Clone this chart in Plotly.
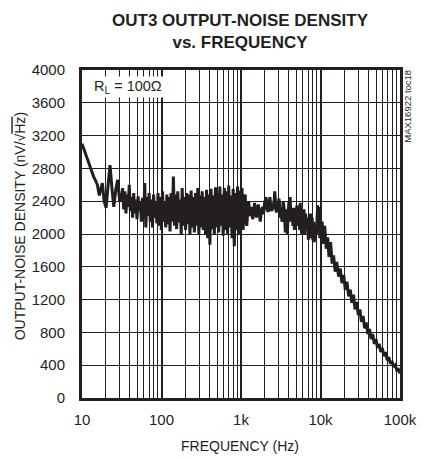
import plotly.graph_objects as go

# ---- data ----
freq_lo = [10, 11, 12, 13, 14, 15, 15.6, 16.5, 17.3, 18.0, 19.0, 20.1, 21.3, 22.5,
           23.8, 25.1, 26.6, 28.1, 29.7]
noise_lo = [3100, 2980, 2880, 2790, 2700, 2640, 2600, 2470, 2560, 2620, 2400, 2320,
            2600, 2840, 2560, 2330, 2540, 2660, 2415]

freq_band = [31.4, 32.4, 33.5, 34.6, 35.7, 36.9, 38.1, 39.3, 40.6, 41.9, 43.3, 44.7,
             46.1, 47.6, 49.2, 50.8, 52.4, 54.1, 55.9, 57.7, 59.6, 61.5, 63.5, 65.6,
             67.7, 69.9, 72.2, 74.6, 77.0, 79.5, 82.1, 84.8, 87.5, 90.4, 93.3, 96.3,
             99.5, 103, 106, 110, 113, 117, 120, 124, 128, 132, 137, 141, 146, 150,
             155, 160, 166, 171, 177, 182, 188, 194, 201, 207, 214, 221, 228, 236,
             243, 251, 259, 268, 277, 286, 295, 304, 314, 325, 335, 346, 357, 369,
             381, 394, 406, 420, 433, 447, 462, 477, 493, 509, 525, 542, 560, 578,
             597, 617, 637, 657, 679, 701, 724, 748, 772, 797, 823, 850, 877, 906,
             935, 966, 997, 1030, 1063, 1098]
noise_band = [2420, 2560, 2300, 2520, 2250, 2480, 2330, 2600, 2280, 2450, 2200, 2500,
              2250, 2420, 2180, 2460, 2280, 2390, 2150, 2440, 2200, 2620, 2080, 2450,
              2220, 2500, 2150, 2420, 2080, 2480, 2200, 2400, 2130, 2500, 2100, 2450,
              2050, 2520, 2150, 2400, 2080, 2480, 2120, 2450, 2030, 2500, 2150, 2700,
              2100, 2480, 2060, 2520, 2140, 2420, 2000, 2560, 2100, 2450, 2050, 2500,
              2120, 2480, 2000, 2530, 2080, 2450, 2020, 2500, 2100, 2560, 1990, 2470,
              2080, 2520, 2050, 2450, 2000, 2540, 1950, 2480, 1870, 2550, 2060, 2470,
              2000, 2570, 2080, 2500, 2020, 2580, 2100, 2480, 1980, 2560, 2050, 2520,
              2000, 2590, 2080, 2470, 1950, 2550, 1850, 2500, 2050, 2580, 2000, 2530,
              2100, 2560, 2050, 2420]

freq_mid = [1130, 1160, 1182, 1220, 1250, 1290, 1322, 1360, 1400, 1439, 1480, 1520,
            1565, 1610, 1650, 1700, 1747, 1800, 1860, 1920, 1980, 2068, 2130, 2200,
            2260, 2311, 2370, 2440, 2512, 2580, 2656, 2720, 2780, 2850, 2920, 3000,
            3055, 3130, 3200, 3270, 3322, 3400, 3500, 3613, 3700, 3821, 3900, 4000,
            4080, 4152, 4250, 4389, 4500, 4600, 4700, 4772, 4900, 5050, 5200, 5333,
            5450, 5560, 5700, 5801, 5950, 6050, 6200, 6310, 6500, 6650, 6800, 7052,
            7200, 7350, 7500, 7670, 7850, 8000, 8200, 8342, 8600, 8900, 9200, 9400,
            9590, 9800, 10000, 10140]
noise_mid = [2480, 2150, 2100, 2300, 2400, 2250, 2220, 2330, 2180, 2250, 2380, 2300,
             2200, 2300, 2360, 2250, 2150, 2280, 2330, 2240, 2380, 2450, 2300, 2270,
             2400, 2450, 2320, 2280, 2380, 2300, 2520, 2350, 2260, 2400, 2300, 2430,
             2380, 2200, 2320, 2150, 2180, 2400, 2300, 2020, 2300, 2000, 2250, 2400,
             2300, 2450, 2150, 2300, 2100, 2320, 2050, 2250, 2150, 2350, 2100, 2280,
             2050, 2380, 2100, 2000, 2280, 2150, 2300, 2000, 2250, 2050, 2200, 1930,
             2200, 2080, 2250, 1950, 2200, 1920, 2150, 1900, 2100, 2000, 2350, 2050,
             2330, 1950, 2200, 2000]

freq_hi = [10500, 10900, 11300, 11800, 12300, 12800, 13400, 14000, 14600, 15300,
           16000, 16900, 17700, 18600, 19600, 20500, 21500, 22600, 23700, 24800,
           26000, 27200, 28500, 29900, 31300, 32700, 34300, 35900, 37600, 39400,
           41300, 43300, 45400, 47600, 49800, 52200, 54700, 57300, 60000, 62900,
           65900, 69000, 72300, 75700, 79300, 83100, 87000, 91200, 95500, 100000]
noise_hi = [2150, 1880, 2100, 1820, 1960, 1720, 1900, 1640, 1740, 1540,
            1660, 1480, 1580, 1400, 1500, 1320, 1420, 1240, 1320, 1160,
            1260, 1080, 1170, 1010, 1080, 930, 1000, 850, 920, 780,
            840, 720, 780, 660, 720, 610, 660, 560, 610, 510,
            560, 460, 500, 420, 450, 380, 400, 340, 350, 300]

freq = freq_lo + freq_band + freq_mid + freq_hi
noise = noise_lo + noise_band + noise_mid + noise_hi

x_tickvals = [10, 100, 1000, 10000, 100000]
x_ticktext = ["10", "100", "1k", "10k", "100k"]
y_tickvals = [0, 400, 800, 1200, 1600, 2000, 2400, 2800, 3200, 3600, 4000]

FONT = "Liberation Sans, Arial, sans-serif"
INK = "#231f20"

fig = go.Figure()
fig.add_trace(go.Scatter(x=freq, y=noise, mode="lines",
                         line=dict(color=INK, width=3), showlegend=False,
                         hoverinfo="skip"))

# the page body adds an 8px margin, so the figure is 8px smaller on each axis
fig.update_layout(
    width=421, height=451,
    margin=dict(l=74, r=17, t=62, b=61),
    paper_bgcolor="white", plot_bgcolor="white",
    font=dict(family=FONT, color=INK, size=15),
    xaxis=dict(type="log", range=[1, 5], tickvals=x_tickvals, ticktext=x_ticktext,
               showgrid=True, gridcolor=INK, gridwidth=1.6,
               minor=dict(dtick="D1", showgrid=True, gridcolor=INK, gridwidth=1,
                          ticks=""),
               showline=True, mirror=True, linecolor=INK, linewidth=3,
               ticks="", ticklabelstandoff=6, zeroline=False,
               tickfont=dict(family=FONT, size=15, color=INK)),
    yaxis=dict(range=[0, 4000], tickvals=y_tickvals,
               showgrid=True, gridcolor=INK, gridwidth=1.2,
               showline=True, mirror=True, linecolor=INK, linewidth=3,
               ticks="", ticklabelstandoff=11, zeroline=False,
               tickfont=dict(family=FONT, size=15, color=INK)),
)

def px_x(px):
    return (px - 82) / 330.0

def px_y(py):
    return (398 - py) / 328.0

fig.add_annotation(xref="paper", yref="paper", x=px_x(246), y=px_y(31),
                   text="<b>OUT3 OUTPUT-NOISE DENSITY<br>vs. FREQUENCY</b>",
                   showarrow=False, xanchor="center", yanchor="middle",
                   font=dict(family=FONT, size=17, color=INK))
fig.add_annotation(xref="paper", yref="paper", x=px_x(246), y=px_y(446),
                   text="FREQUENCY (Hz)", showarrow=False,
                   xanchor="center", yanchor="middle",
                   font=dict(family=FONT, size=14, color=INK))
fig.add_annotation(xref="paper", yref="paper", x=px_x(18), y=px_y(226),
                   text="OUTPUT-NOISE DENSITY (nV/√<span style='text-decoration:overline'>Hz</span>)",
                   textangle=-90, showarrow=False,
                   xanchor="center", yanchor="middle",
                   font=dict(family=FONT, size=14, color=INK))
fig.add_annotation(xref="paper", yref="paper", x=px_x(92), y=px_y(87),
                   text="R<sub>L</sub> = 100Ω", showarrow=False,
                   xanchor="left", yanchor="middle", bgcolor="white",
                   borderpad=1,
                   font=dict(family=FONT, size=14.5, color=INK))
fig.add_annotation(xref="paper", yref="paper", x=px_x(419), y=px_y(106),
                   text="MAX16922 toc18", textangle=-90, showarrow=False,
                   xanchor="center", yanchor="middle",
                   font=dict(family=FONT, size=9.5, color=INK))

fig.write_html("out.html")
